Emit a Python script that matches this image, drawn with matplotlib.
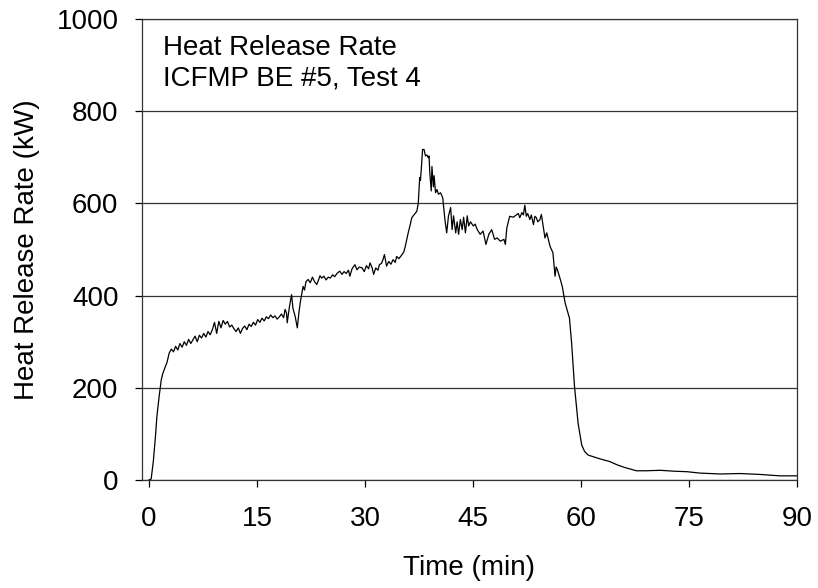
import numpy as np
import matplotlib
matplotlib.use("Agg")
import matplotlib.pyplot as plt

# Heat release rate, ICFMP BE #5 Test 4
time_min = [0, 0.3, 0.6, 0.9, 1.1, 1.4, 1.7, 1.9, 2.2, 2.5, 2.8, 3.1, 3.4, 3.7, 4.0, 4.3,
            4.6, 4.9, 5.2, 5.5, 5.8, 6.1, 6.4, 6.7, 7.0, 7.3, 7.6, 7.9, 8.2, 8.5, 8.8,
            9.1, 9.4, 9.7, 10.0, 10.3, 10.6, 10.9, 11.2, 11.5, 11.8, 12.1, 12.4, 12.7,
            13.0, 13.3, 13.6, 13.9, 14.2, 14.5, 14.8, 15.1, 15.4, 15.7, 16.0, 16.3,
            16.6, 16.9, 17.2, 17.5, 17.8, 18.1, 18.4, 18.7, 18.9, 19.1, 19.2, 19.5,
            19.8, 20.0, 20.3, 20.6, 20.8, 21.0, 21.2, 21.4, 21.6, 21.8, 22.1, 22.4,
            22.7, 23.0, 23.3, 23.6, 23.75, 24.0, 24.3, 24.6, 24.9, 25.2, 25.5, 25.8,
            26.1, 26.5, 26.8, 27.1, 27.4, 27.7, 27.9, 28.2, 28.6, 28.9, 29.2, 29.6,
            29.9, 30.2, 30.5, 30.7, 31.0, 31.2, 31.5, 31.8, 32.0, 32.3, 32.5, 32.7,
            33.0, 33.3, 33.6, 33.9, 34.2, 34.4, 34.7, 35.1, 35.4, 35.6, 36.0, 36.3,
            36.5, 36.8, 37.2, 37.4, 37.6, 37.7, 37.8, 38.0, 38.2, 38.4, 38.6, 38.8,
            38.9, 39.0, 39.2, 39.3, 39.5, 39.6, 39.8, 40.0, 40.2, 40.5, 40.8, 41.1,
            41.35, 41.6, 41.9, 42.1, 42.3, 42.6, 42.8, 43.0, 43.25, 43.5, 43.7, 43.95,
            44.2, 44.4, 44.65, 45.05, 45.3, 45.6, 46.0, 46.4, 46.8, 47.2, 47.6, 48.0,
            48.35, 48.8, 49.3, 49.5, 49.7, 50.1, 50.6, 51.1, 51.3, 51.5, 51.8, 52.0,
            52.2, 52.4, 52.6, 52.9, 53.1, 53.4, 53.6, 53.8, 54.0, 54.3, 54.5, 55.0,
            55.25, 55.7, 56.1, 56.4, 56.55, 56.7, 57.0, 57.4, 57.8, 58.4, 58.7, 59.1,
            59.6, 60.1, 60.5, 61.0, 61.8, 62.6, 64.0, 65.0, 66.1, 67.0, 67.7, 69.0,
            71.0, 73.0, 74.7, 76.5, 79.3, 82.1, 84.9, 87.6, 90.0]
hrr_kw = [0, 2, 40, 95, 138, 180, 217, 230, 243, 255, 275, 284, 278, 290, 282, 296,
          288, 300, 292, 305, 296, 304, 312, 300, 314, 308, 318, 310, 322, 315, 326,
          342, 318, 344, 330, 346, 338, 344, 332, 336, 328, 322, 330, 318,
          329, 334, 326, 338, 333, 342, 336, 348, 342, 351, 345, 354,
          350, 358, 352, 356, 349, 354, 360, 352, 370, 362, 341, 375,
          402, 372, 355, 330, 360, 384, 402, 420, 412, 430, 435, 428,
          440, 430, 424, 436, 443, 438, 442, 434, 440, 438, 445, 441,
          448, 453, 446, 452, 448, 455, 442, 458, 467, 456, 462, 460,
          452, 465, 458, 471, 460, 446, 460, 455, 467, 470, 478, 489,
          464, 474, 468, 478, 472, 485, 480, 488, 495, 507, 536, 555,
          569, 575, 583, 600, 656, 650, 670, 717, 717, 703, 705, 699,
          703, 667, 627, 680, 636, 660, 623, 630, 620, 623, 612, 565,
          536, 573, 591, 543, 573, 536, 560, 533, 565, 543, 570, 536,
          573, 551, 560, 551, 555, 543, 533, 540, 511, 533, 543, 522,
          525, 518, 522, 511, 547, 572, 570, 576, 578, 569, 580, 575,
          596, 572, 578, 565, 575, 554, 572, 569, 560, 565, 576, 525,
          536, 507, 493, 442, 462, 457, 442, 420, 384, 351, 297, 203,
          123, 76, 62, 54, 50, 46, 40, 33, 27, 23, 20, 20,
          21, 19, 18, 15, 13, 14, 12, 9, 9]

x_ticks = [0, 15, 30, 45, 60, 75, 90]
y_ticks = [0, 200, 400, 600, 800, 1000]

plt.rcParams['font.family'] = ['Liberation Sans', 'DejaVu Sans']
plt.rcParams['font.size'] = 20

fig = plt.figure(figsize=(8.18, 5.88), dpi=100)
ax = fig.add_axes([0.1736, 0.1837, 0.8007, 0.784])

ax.plot(time_min, hrr_kw, color='black', linewidth=0.9)

ax.set_xlim(-0.97, 90)
ax.set_ylim(0, 1000)
ax.set_xticks(x_ticks)
ax.set_yticks(y_ticks)
ax.yaxis.grid(True, color='#333333', linewidth=0.9)
ax.set_axisbelow(True)
ax.tick_params(direction='out', length=5, width=0.9, colors='black')
ax.tick_params(axis='x', pad=14)
ax.tick_params(axis='y', pad=12)
for s in ax.spines.values():
    s.set_linewidth(0.9)
    s.set_color('#333333')

ax.set_xlabel('Time (min)', labelpad=16)
ax.set_ylabel('Heat Release Rate (kW)', labelpad=12)

ax.text(0.032, 0.965, 'Heat Release Rate\nICFMP BE #5, Test 4',
        transform=ax.transAxes, va='top', ha='left', linespacing=1.2)

fig.savefig('out.png', dpi=100)
